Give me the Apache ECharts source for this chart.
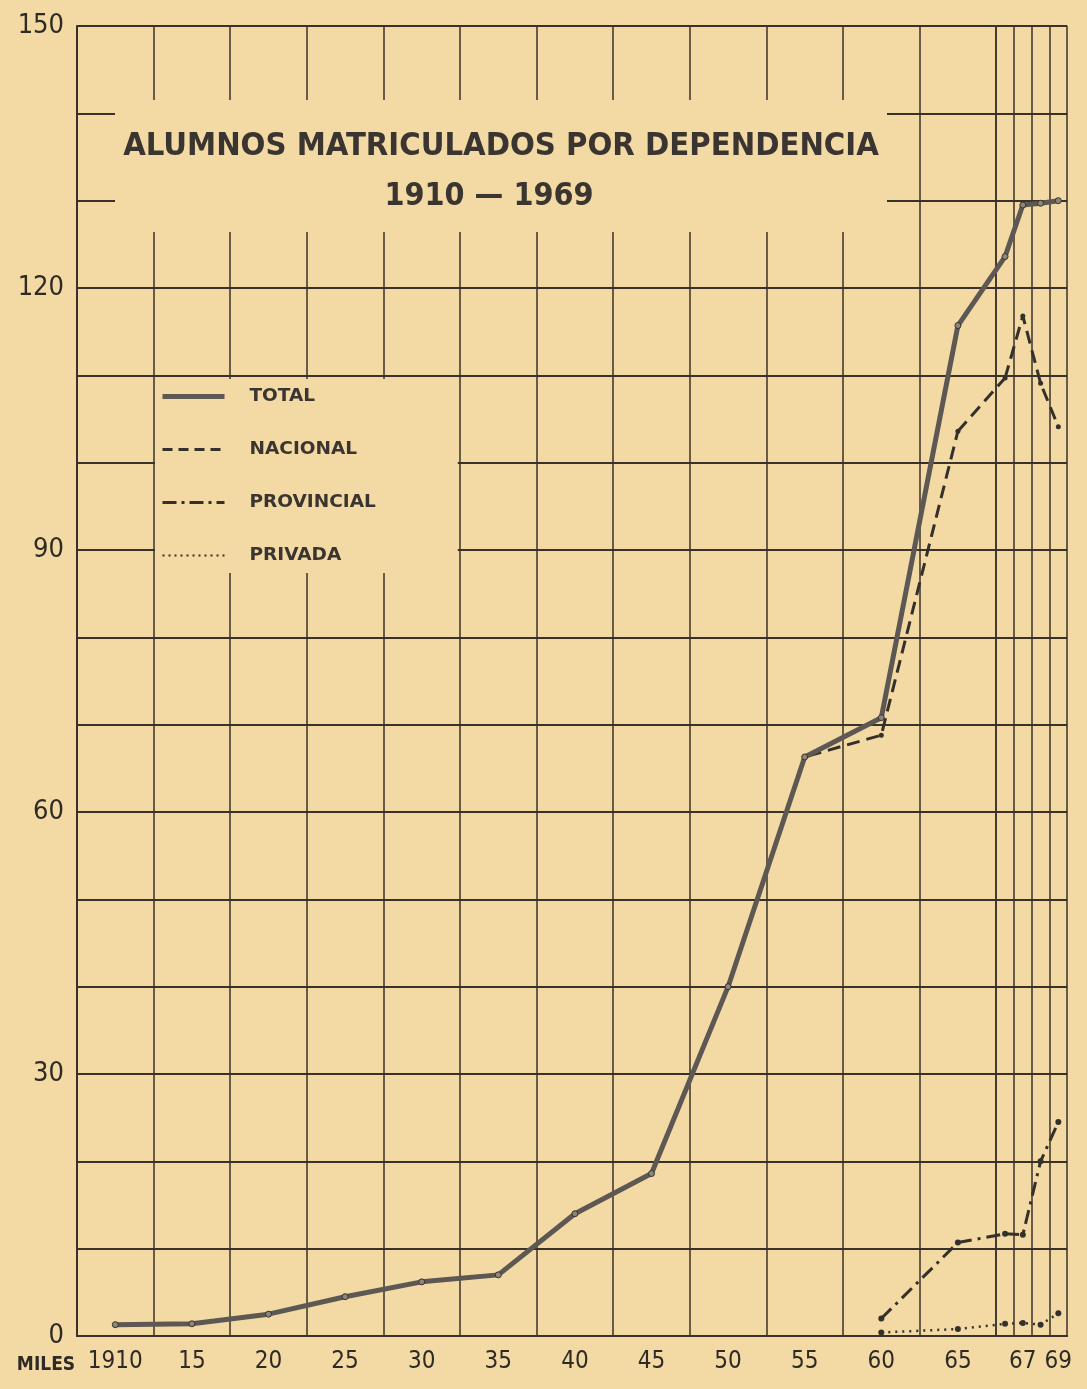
<!DOCTYPE html>
<html>
<head>
<meta charset="utf-8">
<script src="https://cdn.jsdelivr.net/npm/echarts@6/dist/echarts.min.js"></script>
<style>
html,body{margin:0;padding:0;background:#f3d9a3;}
#chart{width:1087px;height:1389px;}
</style>
</head>
<body>
<div id="chart"></div>
<script>
// ---- data (thousands of students) ----
const years = [1910,1915,1920,1925,1930,1935,1940,1945,1950,1955,1960,1965,1966,1967,1968,1969];
const xLabelsA = ['1910','15','20','25','30','35','40','45','50','55','60','65'];
const xLabelsB = ['66','67','68','69'];
const yTickLabels = ['0','30','60','90','120','150'];
const seriesNames = ['TOTAL','NACIONAL','PROVINCIAL','PRIVADA'];
const total      = [1.3,1.4,2.5,4.5,6.2,7.0,14.0,18.6,40.0,66.3,70.8,115.7,123.6,129.5,129.7,130.0];
const nacional   = [1.3,1.4,2.5,4.5,6.2,7.0,14.0,18.6,40.0,66.3,68.8,103.6,109.7,116.8,109.1,104.1];
const provincial = [null,null,null,null,null,null,null,null,null,null,2.0,10.7,11.7,11.6,20.0,24.5];
const privada    = [null,null,null,null,null,null,null,null,null,null,0.4,0.8,1.4,1.5,1.3,2.6];

// ---- styling / layout ----
const PAPER = '#f3d9a3';
const INK = '#3a322a';
const TXT = '#2e2a26';
const COND = '"DejaVu Sans Condensed","Liberation Sans Narrow","Liberation Sans",sans-serif';
const SANS = '"DejaVu Sans","Liberation Sans",sans-serif';
const L = 77, T = 26, H = 1310, WIDE = 76.6, NARROW = 17.75;
const WA = 12 * WIDE, LB = L + WA, WB = 4 * NARROW;
const LC = L + 11.5 * WIDE, WC = (LB + 0.5 * NARROW) - LC;
const nA = xLabelsA.length;

const styles = {
  TOTAL:      {lineStyle:{color:'#5d5853', width:5}, itemStyle:{color:'#8b857d', borderColor:INK, borderWidth:1}, symbolSize:6, z:6},
  NACIONAL:   {lineStyle:{color:'#34302b', width:3, type:[13,7]}, itemStyle:{color:'#34302b'}, symbolSize:5, z:4},
  PROVINCIAL: {lineStyle:{color:'#34302b', width:3, type:[14,6,3,6]}, itemStyle:{color:'#34302b'}, symbolSize:6, z:4},
  PRIVADA:    {lineStyle:{color:'#34302b', width:2.5, type:[2,5]}, itemStyle:{color:'#34302b'}, symbolSize:6, z:4}
};

function build(name, values) {
  const s = styles[name];
  const base = {name:name, type:'line', lineStyle:s.lineStyle, itemStyle:s.itemStyle, z:s.z,
                symbol:'circle', symbolSize:s.symbolSize, silent:true, animation:false};
  return [
    Object.assign({}, base, {xAxisIndex:0, yAxisIndex:0, data: values.slice(0, nA)}),
    Object.assign({}, base, {xAxisIndex:1, yAxisIndex:1, data: values.slice(nA)}),
    Object.assign({}, base, {xAxisIndex:2, yAxisIndex:2, symbol:'none', data: [values[nA-1], values[nA]]})
  ];
}

const yAxisBase = {type:'value', min:0, max:150, interval:10};
const chart = echarts.init(document.getElementById('chart'), null, {renderer:'canvas'});
chart.setOption({
  backgroundColor: PAPER,
  animation: false,
  grid: [
    {left:L, top:T, width:WA, height:H},
    {left:LB, top:T, width:WB, height:H},
    {left:LC, top:T, width:WC, height:H}
  ],
  xAxis: [
    {type:'category', gridIndex:0, data:xLabelsA, boundaryGap:true,
     axisLine:{show:true, lineStyle:{color:INK, width:2}}, axisTick:{show:false},
     axisLabel:{interval:0, margin:14, fontSize:24, color:TXT, fontFamily:COND},
     splitLine:{show:true, interval:0, lineStyle:{color:INK, width:1.5}}},
    {type:'category', gridIndex:1, data:xLabelsB, boundaryGap:true,
     axisLine:{show:true, lineStyle:{color:INK, width:2}}, axisTick:{show:false},
     axisLabel:{interval:function(i){return i % 2 === 1;}, margin:14, fontSize:24, color:TXT, fontFamily:COND},
     splitLine:{show:true, interval:0, lineStyle:{color:INK, width:1.5}}},
    {type:'category', gridIndex:2, data:[xLabelsA[nA-1], xLabelsB[0]], boundaryGap:false, show:false}
  ],
  yAxis: [
    Object.assign({}, yAxisBase, {gridIndex:0,
      axisLine:{show:true, lineStyle:{color:INK, width:2}}, axisTick:{show:false},
      axisLabel:{margin:13, fontSize:27, color:TXT, fontFamily:COND,
        formatter:function(v){ const s = String(v); return yTickLabels.indexOf(s) >= 0 ? s : ''; }},
      splitLine:{show:true, lineStyle:{color:INK, width:2}}}),
    Object.assign({}, yAxisBase, {gridIndex:1,
      axisLine:{show:false}, axisTick:{show:false}, axisLabel:{show:false},
      splitLine:{show:true, lineStyle:{color:INK, width:2}}}),
    Object.assign({}, yAxisBase, {gridIndex:2, show:false})
  ],
  legend: {
    orient:'vertical', left:155, top:379, padding:[8,82,8,5],
    itemWidth:62, itemHeight:14, itemGap:34,
    backgroundColor: PAPER,
    itemStyle:{opacity:0},
    textStyle:{fontSize:18.5, fontWeight:'bold', color:'#3a3530', fontFamily:SANS, padding:[0,0,0,20]},
    data: [
      {name:'TOTAL', lineStyle:{width:5, color:'#5d5853'}},
      {name:'NACIONAL', lineStyle:{width:3, type:[10,6]}},
      {name:'PROVINCIAL', lineStyle:{width:3, type:[14,5,3,5]}},
      {name:'PRIVADA', lineStyle:{width:2, type:[2,4]}}
    ],
    selectedMode:false
  },
  graphic: [
    {type:'rect', z:100, shape:{x:115, y:100, width:772, height:132}, style:{fill:PAPER}},
    {type:'text', z:101, x:501, y:147,
     style:{text:'ALUMNOS MATRICULADOS POR DEPENDENCIA', fill:'#3a3530', font:'bold 32.5px ' + COND, textAlign:'center', textVerticalAlign:'middle'}},
    {type:'text', z:101, x:489, y:197,
     style:{text:'1910 — 1969', fill:'#3a3530', font:'bold 32px ' + COND, textAlign:'center', textVerticalAlign:'middle'}},
    {type:'text', z:101, x:46, y:1365,
     style:{text:'MILES', fill:TXT, font:'bold 19px ' + COND, textAlign:'center', textVerticalAlign:'middle'}}
  ],
  series: [].concat(
    build('NACIONAL', nacional),
    build('PROVINCIAL', provincial),
    build('PRIVADA', privada),
    build('TOTAL', total)
  )
});
</script>
</body>
</html>
